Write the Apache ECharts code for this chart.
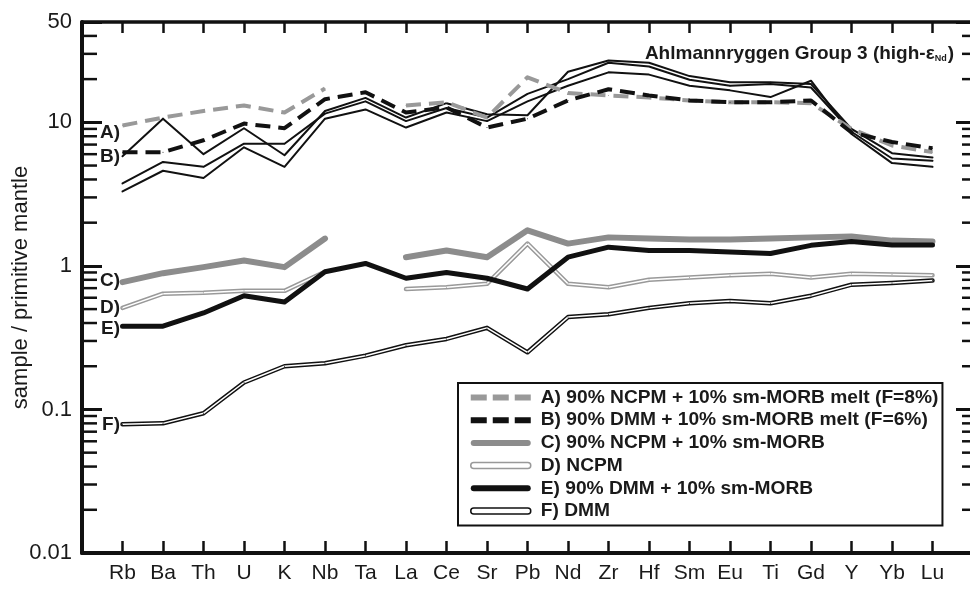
<!DOCTYPE html>
<html><head><meta charset="utf-8">
<script src="https://cdn.jsdelivr.net/npm/echarts@6/dist/echarts.min.js"></script>
<style>html,body{margin:0;padding:0;background:#fff}#c{width:970px;height:590px}</style>
</head><body><div id="c"></div>
<script>
// ---- data ----
const categories = ['Rb','Ba','Th','U','K','Nb','Ta','La','Ce','Sr','Pb','Nd','Zr','Hf','Sm','Eu','Ti','Gd','Y','Yb','Lu'];
const yTickLabels = ['0.01','0.1','1','10','50'];
const minorTickValues = [0.02,0.03,0.04,0.05,0.06,0.07,0.08,0.09,0.2,0.3,0.4,0.5,0.6,0.7,0.8,0.9,2,3,4,5,6,7,8,9,20,30,40];

const seriesA = [9.5, 10.8, 12.0, 13.1, 11.7, 17.2, null, 13.1, 13.8, 10.8, 20.6, 16.0, 15.4, 14.9, 14.2, 13.8, 13.8, 13.6, 9.0, 6.9, 6.2];
const seriesB = [6.2, 6.2, 7.5, 9.8, 9.1, 14.5, 16.2, 11.7, 12.7, 9.2, 10.6, 14.2, 17.0, 15.4, 14.2, 13.8, 13.8, 14.2, 8.5, 7.3, 6.6];
const sample1 = [5.8, 10.6, 6.0, 9.1, 5.9, 12.0, 14.8, 10.8, 13.6, 11.4, 11.2, 22.5, 27.0, 26.0, 21.0, 19.0, 19.0, 18.5, 9.0, 6.1, 5.7];
const sample2 = [3.75, 5.3, 4.9, 7.1, 7.1, 11.5, 14.0, 10.2, 12.6, 10.8, 15.8, 20.0, 26.0, 24.5, 19.8, 18.0, 18.5, 17.5, 8.6, 5.6, 5.4];
const sample3 = [3.3, 4.6, 4.1, 6.7, 4.9, 10.6, 12.3, 9.2, 11.7, 10.2, 14.0, 18.0, 22.3, 21.5, 18.0, 16.7, 15.0, 19.5, 8.3, 5.2, 4.9];
const seriesC = [0.77, 0.89, 0.98, 1.09, 0.98, 1.55, null, 1.15, 1.28, 1.15, 1.77, 1.43, 1.58, 1.55, 1.53, 1.53, 1.55, 1.58, 1.60, 1.50, 1.48];
const seriesD = [0.51, 0.64, 0.65, 0.67, 0.67, 0.91, null, 0.69, 0.71, 0.75, 1.43, 0.75, 0.71, 0.80, 0.83, 0.86, 0.88, 0.83, 0.88, 0.87, 0.86];
const seriesE = [0.38, 0.38, 0.47, 0.62, 0.56, 0.91, 1.04, 0.82, 0.90, 0.82, 0.69, 1.15, 1.35, 1.28, 1.28, 1.25, 1.22, 1.39, 1.48, 1.40, 1.40];
const seriesF = [0.079, 0.080, 0.094, 0.154, 0.20, 0.21, 0.237, 0.28, 0.31, 0.37, 0.25, 0.44, 0.46, 0.51, 0.55, 0.57, 0.55, 0.62, 0.74, 0.76, 0.79];

const names = {
  A: 'A) 90% NCPM + 10% sm-MORB melt (F=8%)',
  B: 'B) 90% DMM + 10% sm-MORB melt (F=6%)',
  C: 'C) 90% NCPM + 10% sm-MORB',
  D: 'D) NCPM',
  E: 'E) 90% DMM + 10% sm-MORB',
  F: 'F) DMM'
};

// ---- helpers ----
const FONT = "'Liberation Sans', Arial, sans-serif";
const INK = '#1a1a1a';
const GRAY = '#999999';

function toData(vals, tag, dy) {
  return vals.map((v, i) => {
    const val = [i, v == null ? '-' : v];
    if (i === 0 && tag) {
      return { value: val, label: { show: true, formatter: tag, position: 'left', distance: 2, offset: [0, dy || 0],
        fontFamily: FONT, fontWeight: 'bold', fontSize: 19, color: INK } };
    }
    return val;
  });
}
function lineSeries(name, vals, color, width, opts) {
  opts = opts || {};
  return {
    type: 'line', name: name, data: toData(vals, opts.tag, opts.dy),
    symbol: opts.noSymbol ? 'none' : 'circle', symbolSize: 1,
    itemStyle: { color: color },
    lineStyle: { color: color, width: width, type: opts.dash || 'solid', cap: opts.dash ? 'butt' : 'round', join: 'round' },
    connectNulls: false, silent: true, animation: false, z: opts.z || 2,
    emphasis: { disabled: true }
  };
}

const capsule = 'path://M3,0H57A3,3 0 0 1 57,6H3A3,3 0 0 1 3,0Z';
const dashes = 'path://M0,0H16V6H0Z M22,0H38V6H22Z M44,0H60V6H44Z';

const option = {
  animation: false,
  backgroundColor: '#fff',
  grid: { left: 82, right: -3, top: 22, bottom: 37, containLabel: false, outerBoundsMode: 'none' },
  title: {
    text: '{t|Ahlmannryggen Group 3 (high-ε}{s|Nd}{t|)}',
    right: 11, top: 39,
    textStyle: {
      rich: {
        t: { fontFamily: FONT, fontWeight: 'bold', fontSize: 19, color: INK },
        s: { fontFamily: FONT, fontWeight: 'bold', fontSize: 9, color: INK, verticalAlign: 'bottom', padding: [7, 1, 0, 0] }
      }
    }
  },
  legend: {
    orient: 'vertical', left: 458, top: 383,
    padding: [5, 4, 5, 12], itemGap: 3.7, itemWidth: 60, itemHeight: 6,
    borderColor: '#111', borderWidth: 2, backgroundColor: '#fff',
    selectedMode: false,
    textStyle: { fontFamily: FONT, fontWeight: 'bold', fontSize: 19.2, lineHeight: 19, color: INK, padding: [0, 0, 0, 5] },
    data: [
      { name: names.A, icon: dashes, itemStyle: { color: GRAY, borderWidth: 0, borderType: 'solid' } },
      { name: names.B, icon: dashes, itemStyle: { color: '#111', borderWidth: 0, borderType: 'solid' } },
      { name: names.C, icon: capsule, itemStyle: { color: '#8c8c8c', borderWidth: 0, borderType: 'solid' } },
      { name: names.D, icon: capsule, itemStyle: { color: '#fff', borderColor: GRAY, borderWidth: 1.5, borderType: 'solid' } },
      { name: names.E, icon: capsule, itemStyle: { color: '#111', borderWidth: 0, borderType: 'solid' } },
      { name: names.F, icon: capsule, itemStyle: { color: '#fff', borderColor: '#111', borderWidth: 1.5, borderType: 'solid' } }
    ]
  },
  xAxis: [
    {
      type: 'value', position: 'bottom', min: -1, max: 21, interval: 1,
      axisLine: { show: true, onZero: false, lineStyle: { color: '#111', width: 4 } },
      axisTick: { show: true, inside: true, length: 12, lineStyle: { color: '#111', width: 2.5 } },
      axisLabel: { margin: 10, fontFamily: FONT, fontSize: 21, color: INK,
        formatter: v => categories[v] || '' },
      splitLine: { show: false }
    },
    {
      type: 'value', position: 'top', min: -1, max: 21, interval: 1,
      axisLine: { show: true, onZero: false, lineStyle: { color: '#111', width: 3.5 } },
      axisTick: { show: true, inside: true, length: 11, lineStyle: { color: '#111', width: 2.5 } },
      axisLabel: { show: false }, splitLine: { show: false }
    }
  ],
  yAxis: [
    {
      type: 'log', logBase: 10, min: 0.01, max: 50, interval: 1, position: 'left',
      name: 'sample / primitive mantle', nameLocation: 'middle', nameGap: 50, nameMoveOverlap: false,
      nameTextStyle: { fontFamily: FONT, fontSize: 22, color: INK },
      axisLine: { show: true, onZero: false, lineStyle: { color: '#111', width: 4 } },
      axisTick: { show: true, inside: true, length: 20, lineStyle: { color: '#111', width: 3 } },
      axisLabel: { margin: 10, fontFamily: FONT, fontSize: 22, color: INK,
        formatter: v => { const s = String(+Number(v).toPrecision(3)); return yTickLabels.includes(s) ? s : ''; } },
      splitLine: { show: false }
    },
    {
      type: 'log', logBase: 10, min: 0.01, max: 50, interval: 1, position: 'right',
      axisLine: { show: true, onZero: false, lineStyle: { color: '#111', width: 4 } },
      axisTick: { show: true, inside: true, length: 17, lineStyle: { color: '#111', width: 3 } },
      axisLabel: { show: false }, splitLine: { show: false }
    }
  ],
  series: [
    {
      type: 'custom', coordinateSystem: 'cartesian2d', silent: true, clip: false, z: 5,
      data: minorTickValues.map(v => [-1, v]),
      renderItem: (params, api) => {
        const l = api.coord([-1, api.value(1)]);
        const r = api.coord([21, api.value(1)]);
        return { type: 'group', children: [
          { type: 'line', shape: { x1: l[0], y1: l[1], x2: l[0] + 15, y2: l[1] }, style: { stroke: '#111', lineWidth: 2.5 } },
          { type: 'line', shape: { x1: r[0], y1: r[1], x2: r[0] - 11, y2: r[1] }, style: { stroke: '#111', lineWidth: 2.5 } }
        ] };
      }
    },
    lineSeries('sample 1', sample1, '#111', 2, { z: 2 }),
    lineSeries('sample 2', sample2, '#111', 2, { z: 2 }),
    lineSeries('sample 3', sample3, '#111', 2, { z: 2 }),
    lineSeries(names.A, seriesA, GRAY, 4, { dash: [15, 8], tag: 'A)', dy: 7, z: 3 }),
    lineSeries(names.B, seriesB, '#111', 4, { dash: [15, 8], tag: 'B)', dy: 5, z: 3 }),
    lineSeries(names.D, seriesD, GRAY, 4.5, { tag: 'D)', dy: 0, z: 2 }),
    lineSeries('D inner', seriesD, '#fff', 1.5, { noSymbol: true, z: 2 }),
    lineSeries(names.F, seriesF, '#111', 4.5, { tag: 'F)', dy: 1, z: 2 }),
    lineSeries('F inner', seriesF, '#fff', 1.5, { noSymbol: true, z: 2 }),
    lineSeries(names.C, seriesC, '#8c8c8c', 6, { tag: 'C)', dy: -1, z: 3 }),
    lineSeries(names.E, seriesE, '#111', 5, { tag: 'E)', dy: 3, z: 3 })
  ]
};

const chart = echarts.init(document.getElementById('c'), null, { renderer: 'canvas' });
chart.setOption(option);
</script>
</body></html>
